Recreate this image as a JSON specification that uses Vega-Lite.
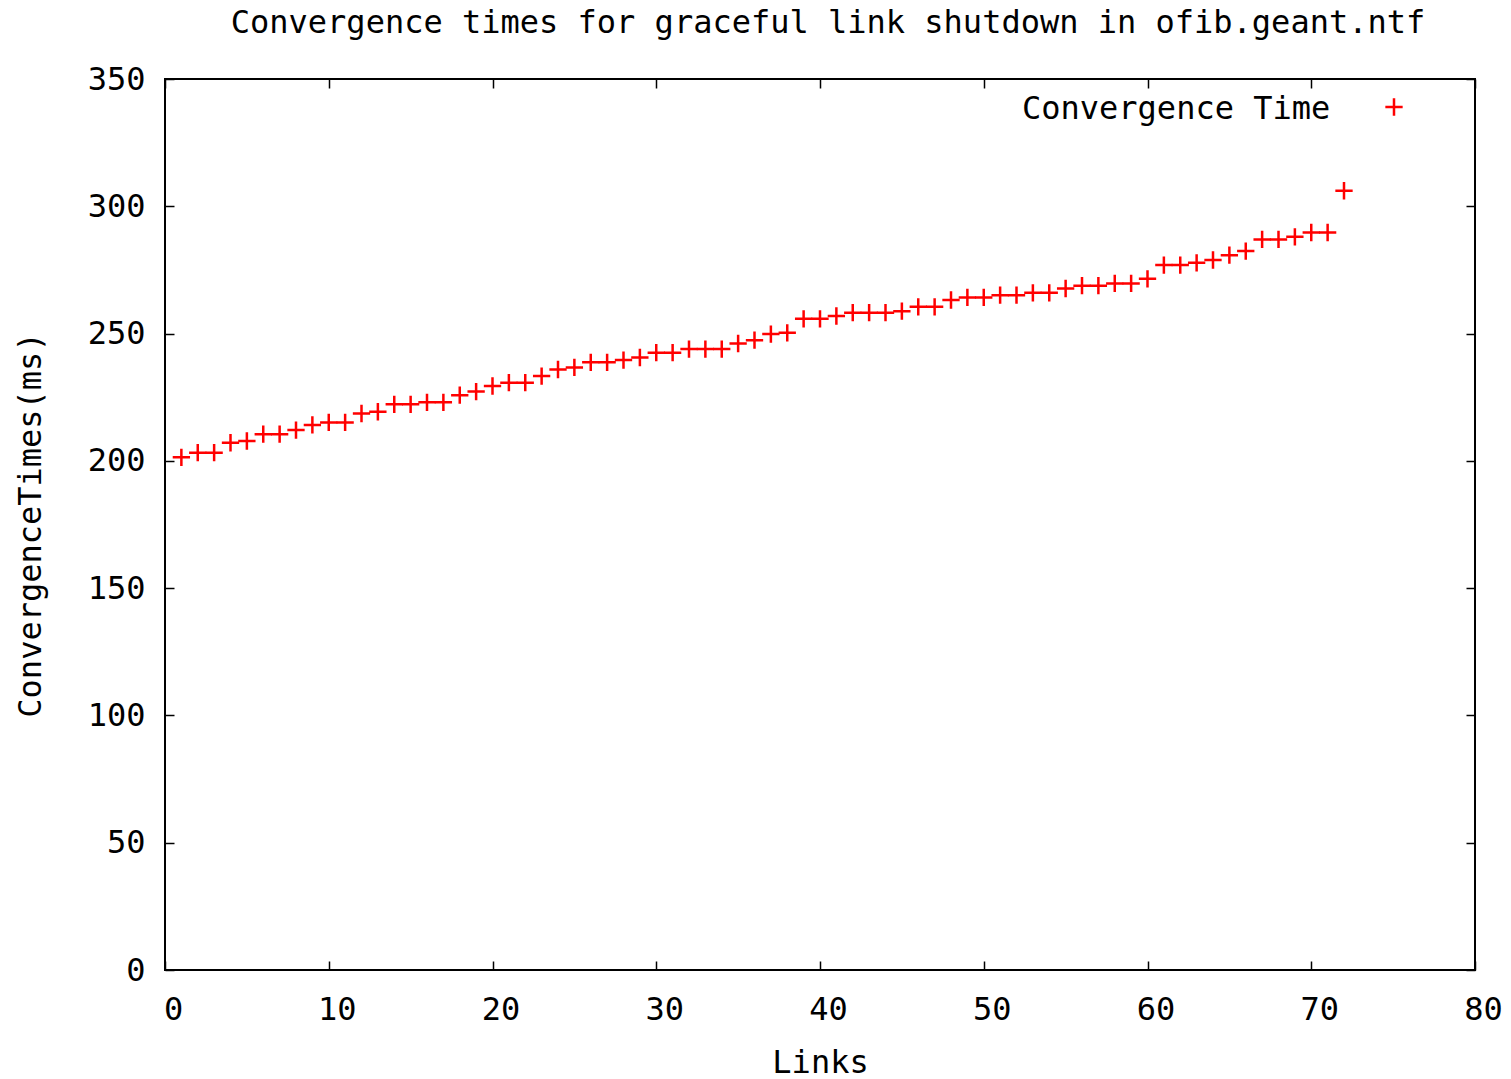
{
  "$schema": "https://vega.github.io/schema/vega-lite/v6.json",
  "width": 1310,
  "height": 891,
  "autosize": {"type": "none"},
  "padding": {"left": 165, "top": 79, "right": 36, "bottom": 109},
  "background": "white",
  "title": {
    "text": "Convergence times for graceful link shutdown in ofib.geant.ntf",
    "font": "DejaVu Sans Mono",
    "fontSize": 32,
    "fontWeight": "normal",
    "color": "black",
    "anchor": "middle",
    "dx": 8,
    "offset": 23
  },
  "config": {
    "view": {"stroke": "black", "strokeWidth": 2},
    "axis": {
      "labelFont": "DejaVu Sans Mono",
      "labelFontSize": 32,
      "labelColor": "black",
      "titleFont": "DejaVu Sans Mono",
      "titleFontSize": 32,
      "titleFontWeight": "normal",
      "titleColor": "black",
      "tickColor": "black",
      "tickWidth": 1.5,
      "tickSize": -9,
      "domain": false,
      "grid": false,
      "labelFlush": false,
      "labelOverlap": false
    },
    "legend": {
      "labelFont": "DejaVu Sans Mono",
      "titleFont": "DejaVu Sans Mono"
    }
  },
  "data": {
    "values": [
      {"link": 1, "time": 201.4, "series": "Convergence Time"},
      {"link": 2, "time": 203.2, "series": "Convergence Time"},
      {"link": 3, "time": 203.2, "series": "Convergence Time"},
      {"link": 4, "time": 207.1, "series": "Convergence Time"},
      {"link": 5, "time": 207.8, "series": "Convergence Time"},
      {"link": 6, "time": 210.5, "series": "Convergence Time"},
      {"link": 7, "time": 210.5, "series": "Convergence Time"},
      {"link": 8, "time": 212.1, "series": "Convergence Time"},
      {"link": 9, "time": 214.1, "series": "Convergence Time"},
      {"link": 10, "time": 215.1, "series": "Convergence Time"},
      {"link": 11, "time": 215.1, "series": "Convergence Time"},
      {"link": 12, "time": 218.6, "series": "Convergence Time"},
      {"link": 13, "time": 219.3, "series": "Convergence Time"},
      {"link": 14, "time": 222.2, "series": "Convergence Time"},
      {"link": 15, "time": 222.2, "series": "Convergence Time"},
      {"link": 16, "time": 223.0, "series": "Convergence Time"},
      {"link": 17, "time": 223.0, "series": "Convergence Time"},
      {"link": 18, "time": 225.8, "series": "Convergence Time"},
      {"link": 19, "time": 227.2, "series": "Convergence Time"},
      {"link": 20, "time": 229.4, "series": "Convergence Time"},
      {"link": 21, "time": 230.7, "series": "Convergence Time"},
      {"link": 22, "time": 230.7, "series": "Convergence Time"},
      {"link": 23, "time": 233.3, "series": "Convergence Time"},
      {"link": 24, "time": 235.9, "series": "Convergence Time"},
      {"link": 25, "time": 236.7, "series": "Convergence Time"},
      {"link": 26, "time": 238.7, "series": "Convergence Time"},
      {"link": 27, "time": 238.7, "series": "Convergence Time"},
      {"link": 28, "time": 239.6, "series": "Convergence Time"},
      {"link": 29, "time": 240.6, "series": "Convergence Time"},
      {"link": 30, "time": 242.5, "series": "Convergence Time"},
      {"link": 31, "time": 242.5, "series": "Convergence Time"},
      {"link": 32, "time": 243.9, "series": "Convergence Time"},
      {"link": 33, "time": 243.9, "series": "Convergence Time"},
      {"link": 34, "time": 243.9, "series": "Convergence Time"},
      {"link": 35, "time": 246.1, "series": "Convergence Time"},
      {"link": 36, "time": 247.4, "series": "Convergence Time"},
      {"link": 37, "time": 249.8, "series": "Convergence Time"},
      {"link": 38, "time": 250.3, "series": "Convergence Time"},
      {"link": 39, "time": 255.8, "series": "Convergence Time"},
      {"link": 40, "time": 255.8, "series": "Convergence Time"},
      {"link": 41, "time": 256.9, "series": "Convergence Time"},
      {"link": 42, "time": 258.2, "series": "Convergence Time"},
      {"link": 43, "time": 258.2, "series": "Convergence Time"},
      {"link": 44, "time": 258.2, "series": "Convergence Time"},
      {"link": 45, "time": 258.8, "series": "Convergence Time"},
      {"link": 46, "time": 260.5, "series": "Convergence Time"},
      {"link": 47, "time": 260.5, "series": "Convergence Time"},
      {"link": 48, "time": 263.2, "series": "Convergence Time"},
      {"link": 49, "time": 264.2, "series": "Convergence Time"},
      {"link": 50, "time": 264.2, "series": "Convergence Time"},
      {"link": 51, "time": 265.1, "series": "Convergence Time"},
      {"link": 52, "time": 265.1, "series": "Convergence Time"},
      {"link": 53, "time": 266.0, "series": "Convergence Time"},
      {"link": 54, "time": 266.0, "series": "Convergence Time"},
      {"link": 55, "time": 267.7, "series": "Convergence Time"},
      {"link": 56, "time": 268.8, "series": "Convergence Time"},
      {"link": 57, "time": 268.8, "series": "Convergence Time"},
      {"link": 58, "time": 269.7, "series": "Convergence Time"},
      {"link": 59, "time": 269.7, "series": "Convergence Time"},
      {"link": 60, "time": 271.5, "series": "Convergence Time"},
      {"link": 61, "time": 276.9, "series": "Convergence Time"},
      {"link": 62, "time": 276.9, "series": "Convergence Time"},
      {"link": 63, "time": 277.8, "series": "Convergence Time"},
      {"link": 64, "time": 278.9, "series": "Convergence Time"},
      {"link": 65, "time": 280.8, "series": "Convergence Time"},
      {"link": 66, "time": 282.4, "series": "Convergence Time"},
      {"link": 67, "time": 287.0, "series": "Convergence Time"},
      {"link": 68, "time": 287.0, "series": "Convergence Time"},
      {"link": 69, "time": 288.0, "series": "Convergence Time"},
      {"link": 70, "time": 289.7, "series": "Convergence Time"},
      {"link": 71, "time": 289.7, "series": "Convergence Time"},
      {"link": 72, "time": 306.1, "series": "Convergence Time"}
    ]
  },
  "layer": [
    {
      "mark": {"type": "point", "shape": "M-1,0H1M0,-1V1", "size": 300, "strokeWidth": 2.5, "filled": false, "opacity": 1},
      "encoding": {
        "x": {
          "field": "link", "type": "quantitative",
          "scale": {"domain": [0, 80], "nice": false, "zero": false},
          "axis": {"orient": "bottom", "title": "Links", "values": [0, 10, 20, 30, 40, 50, 60, 70, 80], "labelPadding": 33, "labelOffset": 8, "titlePadding": 22}
        },
        "y": {
          "field": "time", "type": "quantitative",
          "scale": {"domain": [0, 350], "nice": false},
          "axis": {"orient": "left", "title": "ConvergenceTimes(ms)", "values": [0, 50, 100, 150, 200, 250, 300, 350], "labelPadding": 29, "titlePadding": 40}
        },
        "color": {
          "field": "series", "type": "nominal",
          "scale": {"range": ["#ff0000"]},
          "legend": {
            "orient": "none",
            "legendX": 857,
            "legendY": 18,
            "title": "Convergence Time",
            "titleOrient": "left",
            "titleFontSize": 32,
            "titleFontWeight": "normal",
            "titleColor": "black",
            "titleBaseline": "middle",
            "titleLimit": 600,
            "titlePadding": 53,
            "padding": 0,
            "labelExpr": "''",
            "labelFontSize": 1,
            "symbolType": "M-1,0H1M0,-1V1",
            "symbolSize": 300,
            "symbolStrokeWidth": 2.5,
            "symbolStrokeColor": "#ff0000"
          }
        }
      }
    },
    {
      "mark": {"type": "point", "opacity": 0},
      "encoding": {
        "x": {
          "field": "link", "type": "quantitative",
          "scale": {"domain": [0, 80], "nice": false, "zero": false},
          "axis": {"orient": "top", "title": null, "labels": false, "values": [0, 10, 20, 30, 40, 50, 60, 70, 80]}
        },
        "y": {
          "field": "time", "type": "quantitative",
          "scale": {"domain": [0, 350], "nice": false},
          "axis": {"orient": "right", "title": null, "labels": false, "values": [0, 50, 100, 150, 200, 250, 300, 350]}
        }
      }
    }
  ],
  "resolve": {"axis": {"x": "independent", "y": "independent"}}
}
